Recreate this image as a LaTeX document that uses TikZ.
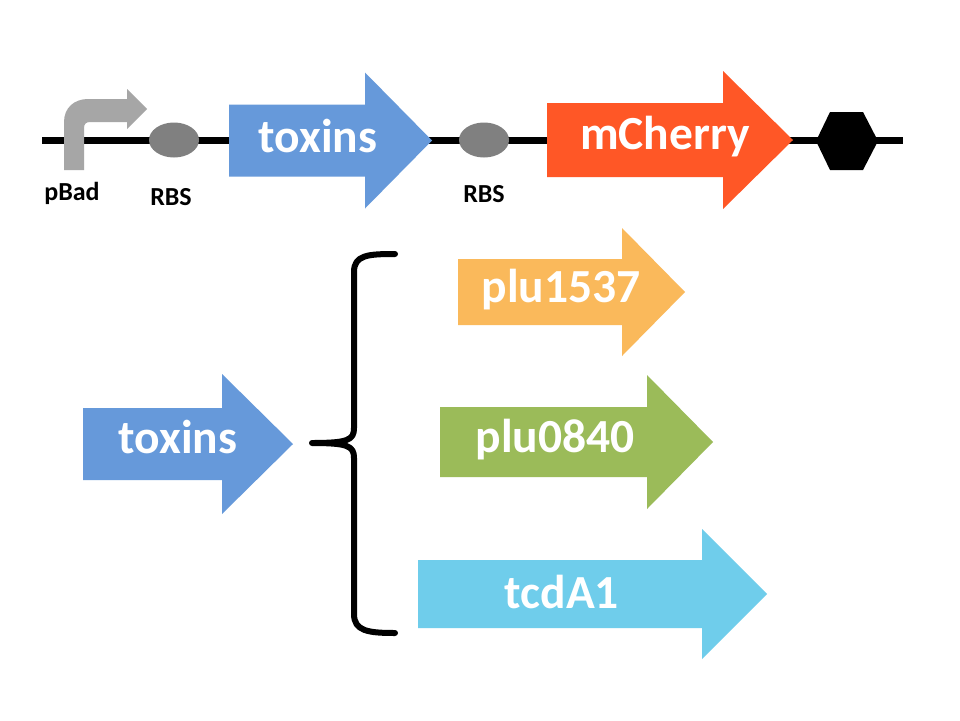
\documentclass[tikz,border=0pt]{standalone}
\usepackage{fontspec}
\setmainfont{Carlito}
\definecolor{genblue}{HTML}{6699DA}
\definecolor{cherry}{HTML}{FF5726}
\definecolor{orng}{HTML}{FAB95B}
\definecolor{grn}{HTML}{9BBB59}
\definecolor{cyn}{HTML}{6FCDEB}
\definecolor{rbsgrey}{HTML}{808080}
\definecolor{promgrey}{HTML}{A6A6A6}
\newcommand\gene[7]{%
  \fill[#1] (#2,#5-#6) -- (#3,#5-#6) -- (#3,#5-#7) -- (#4,#5) -- (#3,#5+#7) -- (#3,#5+#6) -- (#2,#5+#6) -- cycle;}
\tikzset{
  big/.style={font=\fontsize{47.5}{52}\selectfont\bfseries, text=white, anchor=base, inner sep=0pt},
  small/.style={font=\fontsize{26}{30}\selectfont\bfseries, text=black, anchor=base, inner sep=0pt},
}
\begin{document}
\begin{tikzpicture}[x=1pt,y=-1pt]
\useasboundingbox (0,0) rectangle (960,720);
\fill[white] (0,0) rectangle (960,720);
% backbone
\draw[line width=7pt] (42,140.5) coordinate (bbL) -- (903,140.5) coordinate (bbR);
% promoter
\fill[promgrey] (64,170) -- (64,122) .. controls (64,108) and (74,99) .. (88,99) -- (127,99) -- (127,89) -- (147,109) -- (127,129) -- (127,122) -- (90,122) .. controls (86,122) and (84,124) .. (84,128) -- (84,170) -- cycle;
% RBS
\fill[rbsgrey] (174,140) ellipse [x radius=25, y radius=17.5];
\fill[rbsgrey] (484,140) ellipse [x radius=25, y radius=17.5];
% genes top
\gene{genblue}{229}{365}{432}{140.5}{36}{68}
\gene{cherry}{547}{723}{793}{140}{37}{69}
% terminator
\fill[black] (816,141) -- (830,112) -- (863,112) -- (878,141) -- (863,170) -- (830,170) -- cycle;
% labels
\node[big] (toxTop) at (318,152) {toxins};
\node[big] (mch) at (665,149) {mCherry};
\node[small] (pbad) at (72,200) {pBad};
\node[small] (rbs1) at (171,205) {RBS};
\node[small] (rbs2) at (484,202) {RBS};
% lower genes
\gene{genblue}{83}{222}{293}{444}{36}{70}
\gene{orng}{458}{622}{685}{292}{33}{64}
\gene{grn}{440}{647}{713}{442}{35}{67}
\gene{cyn}{418}{702}{767}{594}{34}{65}
\node[big] (toxLow) at (178,453) {toxins};
\node[big] (p1537) at (561,302) {plu1537};
\node[big] (p0840) at (555,452) {plu0840};
\node[big] (tcd) at (562,608) {tcdA1};
% brace
\draw[line width=6pt, line cap=round, line join=round]
  (395,254) .. controls (368,254) and (354,255) .. (354,272) -- (354,428)
  .. controls (354,440) and (348,443) .. (312,443)
  .. controls (348,443) and (354,446) .. (354,458) -- (354,614)
  .. controls (354,631) and (368,633) .. (395,633);
\end{tikzpicture}
\end{document}
